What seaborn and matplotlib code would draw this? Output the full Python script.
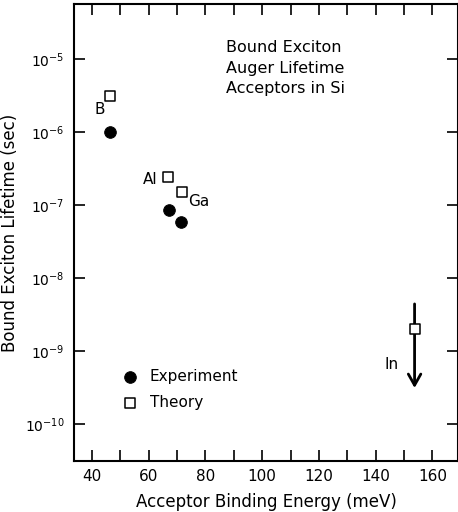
import numpy as np
import pandas as pd
import matplotlib
matplotlib.use("Agg")
import matplotlib.pyplot as plt
import matplotlib.ticker as mticker
import seaborn as sns

#----------------------------------
# data
#----------------------------------
acceptors = ["B", "Al", "Ga", "In"]
exp_energy = [46.3, 67.1, 71.3]
exp_lifetime = [1.0e-6, 8.5e-8, 5.9e-8]
theory_energy = [46.3, 66.8, 71.7, 153.7]
theory_lifetime = [3.1e-6, 2.4e-7, 1.5e-7, 2.0e-9]
in_arrow_top = 4.4e-9
in_arrow_bottom = 3.1e-10

exp_df = pd.DataFrame({"energy": exp_energy, "lifetime": exp_lifetime, "kind": "Experiment"})
th_df = pd.DataFrame({"energy": theory_energy, "lifetime": theory_lifetime, "kind": "Theory"})

sns.set_style("ticks")
plt.rcParams["font.family"] = ["DejaVu Sans"]
plt.rcParams["mathtext.default"] = "regular"
plt.rcParams["axes.unicode_minus"] = False
plt.rcParams["text.color"] = "black"
plt.rcParams["axes.labelcolor"] = "black"

fig = plt.figure(figsize=(4.58, 5.12), dpi=100)
ax = fig.add_axes([74 / 458, 51 / 512, 1 - 74 / 458, 457 / 512])

# In arrow (theory upper bound, points downward)
ax.annotate("", xy=(theory_energy[3], in_arrow_bottom), xytext=(theory_energy[3], in_arrow_top),
            arrowprops=dict(arrowstyle="->,head_length=0.8,head_width=0.45", lw=2, color="black",
                            shrinkA=0, shrinkB=0))

sns.scatterplot(data=exp_df, x="energy", y="lifetime", marker="o", s=70, color="black",
                edgecolor="black", ax=ax, label="Experiment", zorder=3)
sns.scatterplot(data=th_df, x="energy", y="lifetime", marker="s", s=45, facecolor="white",
                edgecolor="black", linewidth=1.1, ax=ax, label="Theory", zorder=4)

ax.set_yscale("log")
ax.set_xlim(33.7, 169)
ax.set_ylim(3.1e-11, 5.66e-5)

ax.set_xticks(np.arange(40, 161, 20))
ax.set_xticks(np.arange(50, 160, 20), minor=True)
ax.yaxis.set_major_locator(mticker.FixedLocator([1e-10, 1e-9, 1e-8, 1e-7, 1e-6, 1e-5]))
ax.yaxis.set_minor_locator(mticker.NullLocator())
ax.tick_params(which="both", direction="in", length=8, width=1.2, top=True, right=True,
               labelsize=11, colors="black", pad=6)
ax.tick_params(axis="y", labelsize=10, pad=7)

for s in ax.spines.values():
    s.set_linewidth(1.5)
    s.set_color("black")

ax.set_xlabel("Acceptor Binding Energy (meV)", fontsize=12, labelpad=6)
ax.set_ylabel("Bound Exciton Lifetime (sec)", fontsize=12, labelpad=4)

# point labels
ax.text(42.8, 2.0e-6, "B", fontsize=11, ha="center", va="center")
ax.text(60.4, 2.2e-7, "Al", fontsize=11, ha="center", va="center")
ax.text(77.7, 1.13e-7, "Ga", fontsize=11, ha="center", va="center")
ax.text(145.6, 6.6e-10, "In", fontsize=11, ha="center", va="center")

ax.text(87.2, 7.5e-6, "Bound Exciton\nAuger Lifetime\nAcceptors in Si", fontsize=11.5,
        ha="left", va="center", linespacing=1.45)

leg = ax.legend(loc="upper left", bbox_to_anchor=(0.09, 0.215), frameon=False, fontsize=11,
                handletextpad=0.3, labelspacing=0.75, borderaxespad=0)

fig.savefig("out.png", dpi=100)
